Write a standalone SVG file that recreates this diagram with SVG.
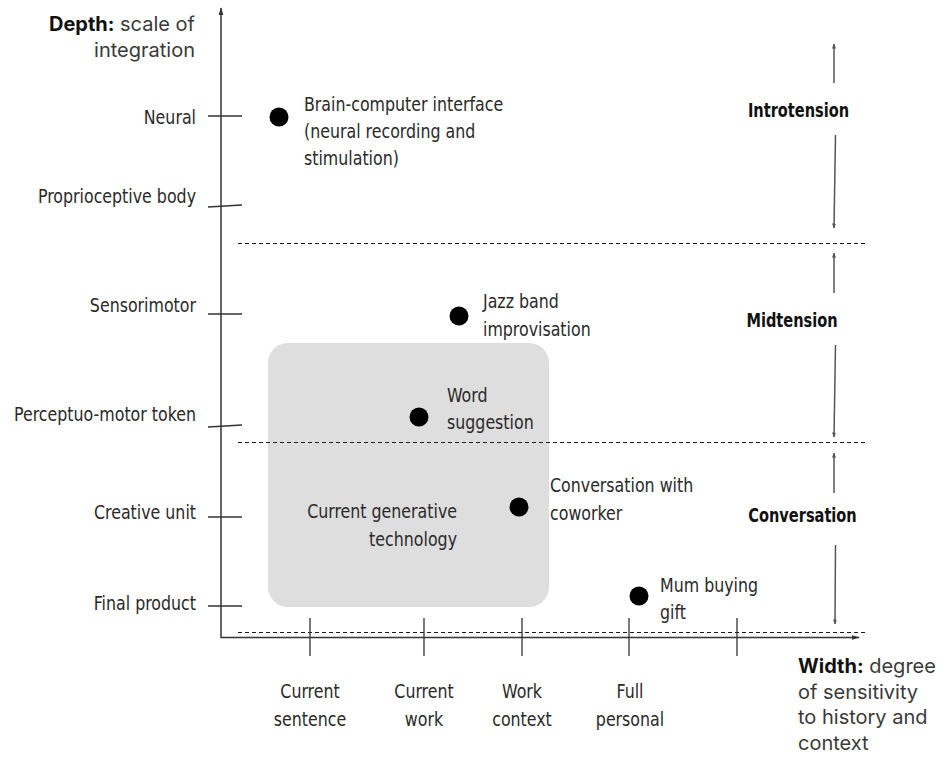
<svg xmlns="http://www.w3.org/2000/svg" width="943" height="763" viewBox="0 0 943 763">
<style>
.lbl{font-family:"DejaVu Sans Condensed","DejaVu Sans",sans-serif;font-size:20px;fill:#2a2a2a}
.bold{font-family:"DejaVu Sans Condensed","DejaVu Sans",sans-serif;font-size:20px;font-weight:bold;fill:#111}
.title{font-family:"Inter","Roboto",sans-serif;font-size:20px;fill:#3a3a3a}
.title tspan.b{font-weight:bold;fill:#111}
.ax{stroke:#333;stroke-width:1.5;fill:none}
.tick{stroke:#333;stroke-width:1.3;fill:none}
.dash{stroke:#1a1a1a;stroke-width:1.2;stroke-dasharray:4,3;fill:none}
.arr{stroke:#555;stroke-width:1.5;fill:none}
.dot{fill:#000}
.r{text-anchor:end}
.m{text-anchor:middle}
</style>
<defs>
<marker id="ah" viewBox="0 0 10 10" refX="9" refY="5" markerWidth="5" markerHeight="5" orient="auto-start-reverse" markerUnits="userSpaceOnUse">
<path d="M0,1 L10,5 L0,9 z" fill="#555"/>
</marker>
<marker id="axh" viewBox="0 0 10 10" refX="9" refY="5" markerWidth="8" markerHeight="8" orient="auto" markerUnits="userSpaceOnUse">
<path d="M0,2 L10,5 L0,8 z" fill="#333"/>
</marker>
</defs>

<g id="region">
<rect x="268" y="343" width="281" height="264" rx="20" fill="#dedede"/>
</g>

<g id="connectors">
<path class="ax" d="M221,638 L221,8" marker-end="url(#axh)"/>
<path class="ax" d="M221,637.5 L859,637.5" marker-end="url(#axh)"/>
<path class="dash" d="M238,243.5 H865"/>
<path class="dash" d="M238,442.5 H865"/>
<path class="dash" d="M238,632.5 H865"/>
<path class="tick" d="M208,116 H242"/>
<path class="tick" d="M208,207 L242,205"/>
<path class="tick" d="M208,314 H242"/>
<path class="tick" d="M208,427 L242,425"/>
<path class="tick" d="M208,517 H242"/>
<path class="tick" d="M208,606 H242"/>
<path class="tick" d="M310,618 V656"/>
<path class="tick" d="M424,618 V656"/>
<path class="tick" d="M522,618 V656"/>
<path class="tick" d="M629,618 V656"/>
<path class="tick" d="M737,618 V656"/>
<path class="arr" d="M834,83 V44" marker-end="url(#ah)"/>
<path class="arr" d="M835.5,135 L834,228" marker-end="url(#ah)"/>
<path class="arr" d="M834,293 V253" marker-end="url(#ah)"/>
<path class="arr" d="M835.5,345 L834,437" marker-end="url(#ah)"/>
<path class="arr" d="M834,493 V453" marker-end="url(#ah)"/>
<path class="arr" d="M835.5,545 L835,624" marker-end="url(#ah)"/>
</g>

<g id="axis-titles">
<text class="title r" x="195" y="31"><tspan class="b">Depth:</tspan> scale of</text>
<text class="title r" x="195" y="57">integration</text>
<text class="title" x="798" y="673"><tspan class="b">Width:</tspan> degree</text>
<text class="title" x="798" y="698.5">of sensitivity</text>
<text class="title" x="798" y="724">to history and</text>
<text class="title" x="798" y="749.5">context</text>
</g>

<g id="depth-labels">
<text class="lbl r" transform="translate(196,124) scale(0.88,1)">Neural</text>
<text class="lbl r" transform="translate(196,203) scale(0.88,1)">Proprioceptive body</text>
<text class="lbl r" transform="translate(196,312) scale(0.88,1)">Sensorimotor</text>
<text class="lbl r" transform="translate(196,421) scale(0.88,1)">Perceptuo-motor token</text>
<text class="lbl r" transform="translate(196,519) scale(0.88,1)">Creative unit</text>
<text class="lbl r" transform="translate(196,610) scale(0.88,1)">Final product</text>
</g>

<g id="width-labels">
<text class="lbl m" transform="translate(310,698) scale(0.88,1)">Current</text>
<text class="lbl m" transform="translate(310,726) scale(0.88,1)">sentence</text>
<text class="lbl m" transform="translate(424,698) scale(0.88,1)">Current</text>
<text class="lbl m" transform="translate(424,726) scale(0.88,1)">work</text>
<text class="lbl m" transform="translate(522,698) scale(0.88,1)">Work</text>
<text class="lbl m" transform="translate(522,726) scale(0.88,1)">context</text>
<text class="lbl m" transform="translate(630,698) scale(0.88,1)">Full</text>
<text class="lbl m" transform="translate(630,726) scale(0.88,1)">personal</text>
</g>

<g id="node-bci">
<circle class="dot" cx="279" cy="117" r="9.5"/>
<text class="lbl" transform="translate(304,111) scale(0.88,1)">Brain-computer interface</text>
<text class="lbl" transform="translate(304,138) scale(0.88,1)">(neural recording and</text>
<text class="lbl" transform="translate(304,165) scale(0.88,1)">stimulation)</text>
</g>
<g id="node-jazz">
<circle class="dot" cx="459" cy="316" r="9.5"/>
<text class="lbl" transform="translate(483,308) scale(0.88,1)">Jazz band</text>
<text class="lbl" transform="translate(483,336) scale(0.88,1)">improvisation</text>
</g>
<g id="node-word">
<circle class="dot" cx="419" cy="417" r="9.5"/>
<text class="lbl" transform="translate(447,402) scale(0.88,1)">Word</text>
<text class="lbl" transform="translate(447,429) scale(0.88,1)">suggestion</text>
</g>
<g id="node-conv">
<circle class="dot" cx="519" cy="507" r="9.5"/>
<text class="lbl" transform="translate(550,492) scale(0.88,1)">Conversation with</text>
<text class="lbl" transform="translate(550,520) scale(0.88,1)">coworker</text>
</g>
<g id="node-mum">
<circle class="dot" cx="639" cy="596" r="9.5"/>
<text class="lbl" transform="translate(660,592) scale(0.88,1)">Mum buying</text>
<text class="lbl" transform="translate(660,619) scale(0.88,1)">gift</text>
</g>
<g id="node-genai">
<text class="lbl r" transform="translate(457,518) scale(0.88,1)">Current generative</text>
<text class="lbl r" transform="translate(457,546) scale(0.88,1)">technology</text>
</g>

<g id="zones">
<text class="bold m" transform="translate(798.5,117) scale(0.81,1)">Introtension</text>
<text class="bold m" transform="translate(792,327) scale(0.81,1)">Midtension</text>
<text class="bold m" transform="translate(802.5,522) scale(0.81,1)">Conversation</text>
</g>
</svg>
